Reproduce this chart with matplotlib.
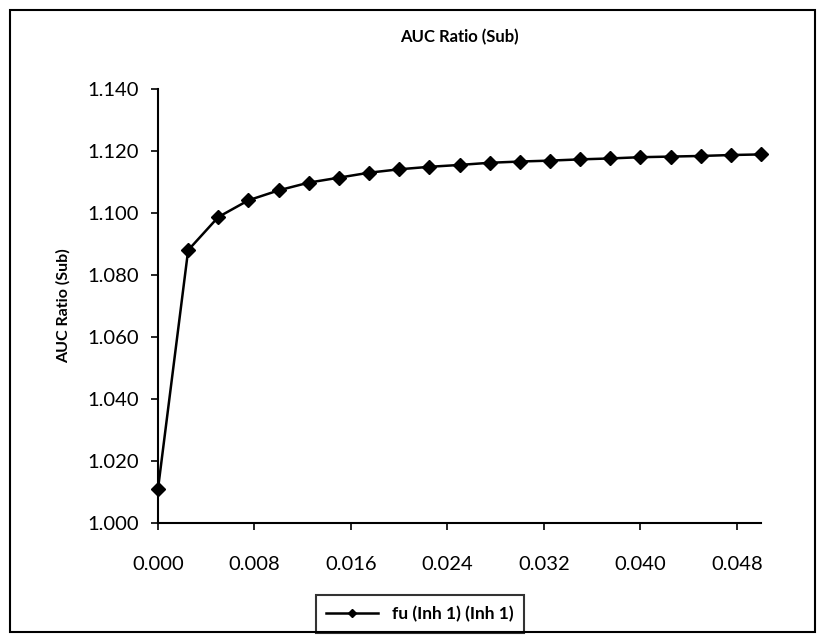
import matplotlib
matplotlib.use('Agg')
import matplotlib.pyplot as plt
from matplotlib.patches import Rectangle
import numpy as np

# fu (Inh 1) values and AUC ratio
fu = [0.0000, 0.0025, 0.0050, 0.0075, 0.0100, 0.0125, 0.0150, 0.0175, 0.0200, 0.0225,
      0.0250, 0.0275, 0.0300, 0.0325, 0.0350, 0.0375, 0.0400, 0.0425, 0.0450, 0.0475, 0.0500]
auc_ratio = [1.011, 1.088, 1.0987, 1.1041, 1.1073, 1.1098, 1.1114, 1.1130, 1.1141, 1.1149,
             1.1155, 1.1162, 1.1166, 1.1169, 1.1173, 1.1176, 1.1180, 1.1182, 1.1184, 1.1187, 1.1189]
xticks = [0.000, 0.008, 0.016, 0.024, 0.032, 0.040, 0.048]
yticks = [1.000, 1.020, 1.040, 1.060, 1.080, 1.100, 1.120, 1.140]
series_label = 'fu (Inh 1) (Inh 1)'
title = 'AUC Ratio (Sub)'

plt.rcParams['font.family'] = ['Lato', 'DejaVu Sans']

W, H = 822, 642
fig = plt.figure(figsize=(W / 100, H / 100), dpi=100)

# outer chart border
fig.patches.append(Rectangle((10 / W, 10 / H), 805 / W, 622 / H, transform=fig.transFigure,
                             fill=False, edgecolor='black', linewidth=1.5))

left, right, top, bottom = 158, 761, 89, 523
ax = fig.add_axes([left / W, 1 - bottom / H, (right - left) / W, (bottom - top) / H])

ax.plot(fu, auc_ratio, color='black', linewidth=1.8, marker='D', markersize=7,
        markerfacecolor='black', markeredgecolor='black', label=series_label, clip_on=False)

ax.set_xlim(0, 0.05)
ax.set_ylim(1.0, 1.14)
ax.set_xticks(xticks)
ax.set_yticks(yticks)
ax.set_xticklabels([f'{v:.3f}' for v in xticks])
ax.set_yticklabels([f'{v:.3f}' for v in yticks])
ax.tick_params(axis='both', labelsize=14.5, width=1.2, color='black')
ax.tick_params(axis='y', direction='out', length=5, pad=9)
ax.tick_params(axis='x', direction='out', length=5, pad=19)

for side in ['top', 'right']:
    ax.spines[side].set_visible(False)
for side in ['left', 'bottom']:
    ax.spines[side].set_linewidth(1.5)

fig.text(0.5 * (left + right) / W, 1 - 37 / H, title, ha='center', va='center',
         fontsize=12, fontweight='bold')
ax.set_ylabel(title, fontsize=11.5, fontweight='bold', labelpad=12)

leg = ax.legend(loc='center', bbox_to_anchor=((420 - left) / (right - left), -(614 - bottom) / (bottom - top)),
                frameon=True, fancybox=False, fontsize=12.5, handlelength=3.0,
                borderpad=0.6, markerscale=0.55)
leg.get_frame().set_edgecolor('black')
leg.get_frame().set_linewidth(1.5)
for t in leg.get_texts():
    t.set_fontweight('bold')

fig.savefig('out.png', dpi=100)
